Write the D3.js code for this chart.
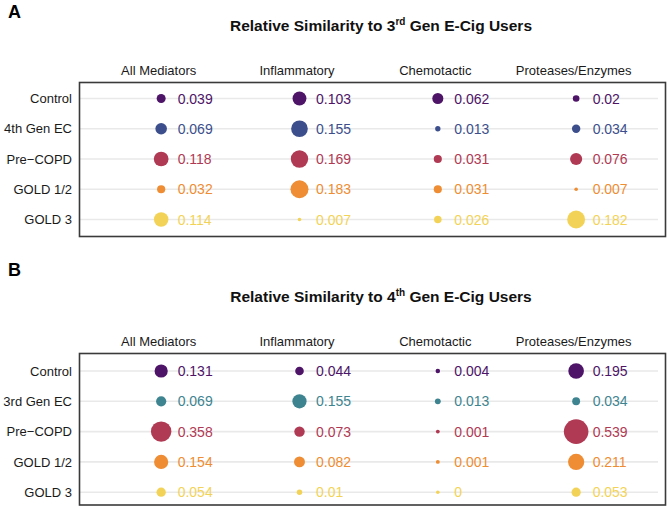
<!DOCTYPE html>
<html>
<head>
<meta charset="utf-8">
<script src="https://cdn.jsdelivr.net/npm/d3@7/dist/d3.min.js"></script>
<style>
  html, body { margin: 0; padding: 0; background: #ffffff; }
  svg { display: block; font-family: "Liberation Sans", Arial, Helvetica, sans-serif; }
</style>
</head>
<body>
<svg id="chart" width="669" height="507"></svg>
<script>
// ---------------- data ----------------
const categories = ["All Mediators", "Inflammatory", "Chemotactic", "Proteases/Enzymes"];

const groupsA = ["Control", "4th Gen EC", "Pre\u2212COPD", "GOLD 1/2", "GOLD 3"];
const colorsA = ["#4d1467", "#3c4f8c", "#b03a54", "#ee8d33", "#f3d357"];
const controlA  = [0.039, 0.103, 0.062, 0.02];
const gen4A     = [0.069, 0.155, 0.013, 0.034];
const preCopdA  = [0.118, 0.169, 0.031, 0.076];
const gold12A   = [0.032, 0.183, 0.031, 0.007];
const gold3A    = [0.114, 0.007, 0.026, 0.182];

const groupsB = ["Control", "3rd Gen EC", "Pre\u2212COPD", "GOLD 1/2", "GOLD 3"];
const colorsB = ["#4d1467", "#3e8490", "#b03a54", "#ee8d33", "#f3d357"];
const controlB  = [0.131, 0.044, 0.004, 0.195];
const gen3B     = [0.069, 0.155, 0.013, 0.034];
const preCopdB  = [0.358, 0.073, 0.001, 0.539];
const gold12B   = [0.154, 0.082, 0.001, 0.211];
const gold3B    = [0.054, 0.01, 0, 0.053];

const seriesA = [controlA, gen4A, preCopdA, gold12A, gold3A];
const seriesB = [controlB, gen3B, preCopdB, gold12B, gold3B];

// ---------------- drawing ----------------
const svg = d3.select("#chart");

function panel(opts) {
  const { letter, letterY, titleMain, sup, titleEnd, titleY, headerY,
          boxTop, boxBottom, rowTop, rowBottom, groups, colors, series, areaMax } = opts;

  const g = svg.append("g");

  g.append("text").attr("x", 8).attr("y", letterY)
    .attr("font-size", 18).attr("font-weight", "bold").attr("fill", "#000").text(letter);

  const t = g.append("text").attr("x", 381).attr("y", titleY)
    .attr("text-anchor", "middle").attr("font-size", 15.5).attr("font-weight", "bold").attr("fill", "#111");
  t.append("tspan").text(titleMain);
  t.append("tspan").attr("font-size", 10).attr("dy", -6).text(sup);
  t.append("tspan").attr("dy", 6).text(titleEnd);

  const x = d3.scalePoint().domain(categories).range([92, 645.3]).padding(0.5);
  const y = d3.scalePoint().domain(groups).range([rowTop, rowBottom]);

  const rows = [];
  groups.forEach((grp, i) => categories.forEach((c, j) => rows.push({ grp, c, v: series[i][j], col: colors[i] })));
  const vals = rows.map(d => d.v);
  const area = d3.scaleLinear().domain([d3.min(vals), d3.max(vals)]).range([0.64, areaMax]);

  // headers (top axis)
  const xAxis = d3.axisTop(x).tickSize(0).tickPadding(0);
  const ax = g.append("g").attr("transform", `translate(-3,${headerY})`).call(xAxis);
  ax.select(".domain").remove();
  ax.selectAll("text").attr("font-size", 13).attr("fill", "#1a1a1a")
    .attr("font-family", "'Liberation Sans', Arial, sans-serif");

  // row labels (left axis)
  const yAxis = d3.axisLeft(y).tickSize(0).tickPadding(0);
  const ay = g.append("g").attr("transform", `translate(72,0)`).call(yAxis);
  ay.select(".domain").remove();
  ay.selectAll("text").attr("font-size", 13).attr("fill", "#1a1a1a")
    .attr("font-family", "'Liberation Sans', Arial, sans-serif");

  // grid lines
  g.append("g").selectAll("line").data(groups).join("line")
    .attr("x1", 80).attr("x2", 658)
    .attr("y1", d => y(d)).attr("y2", d => y(d))
    .attr("stroke", "#e9e9e9").attr("stroke-width", 1.6);

  // dots
  g.append("g").selectAll("circle").data(rows).join("circle")
    .attr("cx", d => x(d.c)).attr("cy", d => y(d.grp))
    .attr("r", d => Math.sqrt(area(d.v)) + 1)
    .attr("fill", d => d.col);

  // value labels
  g.append("g").selectAll("text").data(rows).join("text")
    .attr("x", d => x(d.c) + 16.5).attr("y", d => y(d.grp))
    .attr("dy", "0.36em")
    .attr("font-size", 14).attr("fill", d => d.col)
    .text(d => String(d.v));

  // border
  g.append("rect").attr("x", 79.5).attr("y", boxTop)
    .attr("width", 665.5 - 79.5).attr("height", boxBottom - boxTop)
    .attr("fill", "none").attr("stroke", "#3a3a3a").attr("stroke-width", 1.6);
}

panel({ letter: "A", letterY: 18, titleMain: "Relative Similarity to 3", sup: "rd", titleEnd: " Gen E-Cig Users",
        titleY: 31, headerY: 75, boxTop: 82.5, boxBottom: 236.5, rowTop: 98.5, rowBottom: 219.5,
        groups: groupsA, colors: colorsA, series: seriesA, areaMax: 64 });

panel({ letter: "B", letterY: 276, titleMain: "Relative Similarity to 4", sup: "th", titleEnd: " Gen E-Cig Users",
        titleY: 302, headerY: 346, boxTop: 353.5, boxBottom: 505, rowTop: 371, rowBottom: 492.2,
        groups: groupsB, colors: colorsB, series: seriesB, areaMax: 127.7 });
</script>
</body>
</html>
